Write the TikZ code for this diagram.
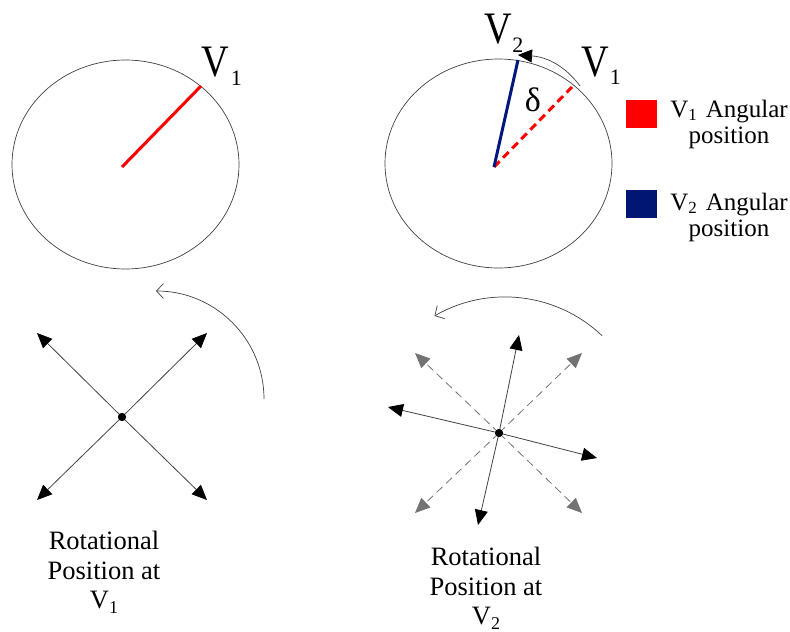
\documentclass[tikz,border=0pt]{standalone}
\usepackage{fontspec}
\setmainfont{Liberation Serif}
\usetikzlibrary{arrows.meta,shapes.geometric}
\definecolor{vred}{RGB}{255,0,0}
\definecolor{vblue}{RGB}{0,24,125}
\definecolor{sqblue}{RGB}{0,22,112}
\definecolor{dgray}{RGB}{115,115,115}
\newcommand{\lowsub}[3]{\raisebox{-#2pt}{\fontsize{#3}{#3}\selectfont #1}}
\newcommand{\bigV}{\scalebox{0.85}[1]{V}}
\begin{document}
\begin{tikzpicture}[x=1pt,y=-1pt,
  ring/.style={draw=black!75, line width=0.7pt, ellipse, inner sep=0pt, minimum width=227pt, minimum height=209pt},
  vecred/.style={draw=vred, line width=3pt},
  vecblue/.style={draw=vblue, line width=3pt},
  vecdash/.style={draw=vred, line width=3pt, dash pattern=on 8pt off 5pt},
  thinarc/.style={draw=black!75, line width=0.7pt},
  blk/.style={draw=black!75, line width=0.8pt, -{Triangle[length=15pt,width=13pt,color=black]}},
  gry/.style={draw=dgray, line width=0.8pt, dash pattern=on 8pt off 5pt, -{Triangle[length=15pt,width=13pt,color=dgray]}},
  dot/.style={circle, fill=black, inner sep=0pt, minimum size=8pt},
  biglbl/.style={inner sep=0pt, font=\fontsize{45}{45}\selectfont},
  txt/.style={inner sep=0pt, align=center, font=\fontsize{26.5}{29.5}\selectfont},
  legtxt/.style={inner sep=0pt, align=center, font=\fontsize{25}{26}\selectfont},
  sq/.style={inner sep=0pt, minimum width=31pt, minimum height=28pt, anchor=north west}
]
\useasboundingbox (0,0) rectangle (790,632);

% ---- top left circle
\node[ring] (e1) at (125.5,164.5) {};
\coordinate (o1) at (122,167);
\coordinate (p1) at (201,86);
\draw[vecred] (o1) -- (p1);
\node[biglbl, anchor=base west] (lv1) at (201,76) {\bigV\kern2pt\lowsub{1}{9}{22}};

% ---- top right circle
\node[ring] (e2) at (498.5,163.5) {};
\coordinate (o2) at (494,167);
\coordinate (p2b) at (518,60);
\coordinate (p2r) at (572,87);
\draw[vecdash] (o2) -- (p2r);
\draw[vecblue] (o2) -- (p2b);
\coordinate (a2s) at (580,86);
\coordinate (a2e) at (518,55);
\draw[thinarc, -{Triangle[length=14pt,width=13pt,color=black]}] (a2s) .. controls (566,67) and (548,57) .. (a2e);
\node[inner sep=0pt, font=\fontsize{34}{34}\selectfont] (dl) at (533,100) {δ};
\node[biglbl, anchor=base west] (rv2) at (484,43) {\bigV\kern0.5pt\lowsub{2}{9}{22}};
\node[biglbl, anchor=base west] (rv1) at (581,76) {\bigV\kern1pt\lowsub{1}{8}{22}};

% ---- legend
\node[sq, fill=vred] (sq1) at (626,100) {};
\node[sq, fill=sqblue] (sq2) at (626,190) {};
\node[legtxt, anchor=north] (lg1) at (729,100) {V\lowsub{1}{3}{17}\hspace{9pt}Angular\\position};
\node[legtxt, anchor=north] (lg2) at (729,193) {V\lowsub{2}{3}{17}\hspace{9pt}Angular\\position};

% ---- bottom left
\node[dot] (d1) at (122,417) {};
\coordinate (t1a) at (37,333);
\coordinate (t1b) at (207,333);
\coordinate (t1c) at (37,500);
\coordinate (t1d) at (207,500);
\draw[blk] (d1.center) -- (t1a);
\draw[blk] (d1.center) -- (t1b);
\draw[blk] (d1.center) -- (t1c);
\draw[blk] (d1.center) -- (t1d);
\node[dot] at (d1) {};
\coordinate (b1s) at (264,399);
\coordinate (b1e) at (156,291);
\draw[thinarc, -{Straight Barb[length=7pt,width=15pt]}] (b1s) .. controls (264,339.4) and (215.6,291) .. (b1e);
\node[txt, anchor=north] (cap1) at (104,531) {Rotational\\Position at\\V\lowsub{1}{5}{18}};

% ---- bottom right
\node[dot] (d2) at (499,433) {};
\coordinate (g2a) at (415,353);
\coordinate (g2b) at (582,353);
\coordinate (g2c) at (415,513);
\coordinate (g2d) at (582,513);
\draw[gry] (d2.center) -- (g2a);
\draw[gry] (d2.center) -- (g2b);
\draw[gry] (d2.center) -- (g2c);
\draw[gry] (d2.center) -- (g2d);
\coordinate (t2a) at (519,335);
\coordinate (t2b) at (478,525);
\coordinate (t2c) at (388,407);
\coordinate (t2d) at (597,458);
\draw[blk] (d2.center) -- (t2a);
\draw[blk] (d2.center) -- (t2b);
\draw[blk] (d2.center) -- (t2c);
\draw[blk] (d2.center) -- (t2d);
\node[dot] at (d2) {};
\coordinate (b2s) at (602.1,335.7);
\coordinate (b2e) at (434.5,315.9);
\draw[thinarc, -{Straight Barb[length=7pt,width=15pt]}] (b2s) .. controls (556.8,292.7) and (488.6,284.7) .. (b2e);
\node[txt, anchor=north] (cap2) at (486,547) {Rotational\\Position at\\V\lowsub{2}{5}{18}};
\end{tikzpicture}
\end{document}
